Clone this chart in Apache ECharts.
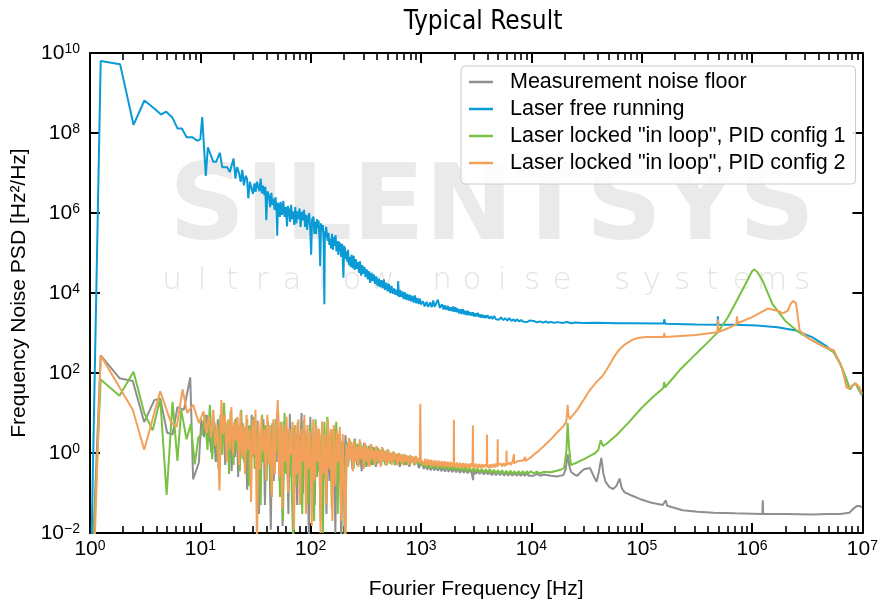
<!DOCTYPE html>
<html>
<head>
<meta charset="utf-8">
<title>Typical Result</title>
<script src="https://cdn.jsdelivr.net/npm/echarts@6/dist/echarts.min.js"></script>
<style>
html,body{margin:0;padding:0;background:#ffffff;}
#chart{width:881px;height:605px;}
</style>
</head>
<body>
<div id="chart"></div>
<script>
// ---------------- data ----------------
const seriesNames = [
  'Measurement noise floor',
  'Laser free running',
  'Laser locked "in loop", PID config 1',
  'Laser locked "in loop", PID config 2'
];
const xTickValues = [1, 10, 100, 1e3, 1e4, 1e5, 1e6, 1e7];
const yTickValues = [1e-2, 1, 1e2, 1e4, 1e6, 1e8, 1e10];
const minorMultipliers = [2, 3, 4, 5, 6, 7, 8, 9];

// [frequency Hz, PSD Hz^2/Hz]
const noiseFloor = [
[1.05,0.002],[1.25,275],[1.85,74],[2.44,63],[3.1,5.9],[3.83,21],[4.33,23],[5.0,3.2],[5.6,2.9],[6.2,14],[7.1,12],[8.1,78],[8.6,0.22],[9.7,0.58],
[10.2,6.8],[10.8,2.5],[11.4,9],[12,3.5],[12.6,1.0],[13.2,4.5],[13.8,0.6],[14.4,7],[15,0.9],[15.6,4],[16.2,8],[16.8,0.5],[17.4,3.8],[18,1.5],[18.6,6],[19.2,0.35],[19.9,4.2],[20.6,0.8],[21.3,7.5],[22,0.25],[22.7,3],[23.4,1.2],[24.2,5.5],[25,0.6],[25.8,2.2],[26.6,0.12],[27.4,4.8],[28.3,0.3],[29.2,9],[30.1,0.8],[31,3.5],[32,0.5],[33,6.5],[34,0.03],[35.1,2.8],[36.2,0.6],[37.3,7],[38.5,0.05],[39.7,4],[40.9,1.0],[42.2,1.6],[43.5,0.012],[44.9,5.5],[46.3,0.2],[47.7,2.5],[49.2,0.6],[50.7,11],[52.3,0.2],[53.9,3.8],[55.6,0.015],[57.3,6],[59.1,0.35],[60.9,2.1],[62.8,0.03],[64.7,9.5],[66.7,0.25],[68.8,4.2],[70.9,0.5],[73.1,3],[75.4,0.05],[77.7,2.8],[80.1,0.45],[82.6,10],[85.2,0.1],[87.8,4],[90.5,0.6],[93.3,2.3],[96.2,0.008],[99.2,8],[102.3,0.4],[105.5,3],[108.8,0.05],[112.2,4.5],[115.7,0.35],[119.3,2],[123,0.02],[126.8,6],[130.8,0.5],[134.9,2.5],[139.1,0.03],[143.4,5],[147.9,0.2],[152.5,3.5],[157.3,0.6],[162.2,2.5],[167.3,0.01],[172.5,3.5],[177.9,0.2],[183.5,2.4],[189.2,0.005],[195.1,1.8],[201.2,0.3],[206.5,2.8],
[216.7,0.45],[227.5,1.9],[238.8,0.4],[250.7,2.3],[263.2,0.5],[276.3,1.6],[290,0.35],[304.5,1.8],[320,0.45],[336,1.5],[353,0.5],[371,1.4],[390,0.45],[410,1.3],[431,0.55],[453,1.2],[476,0.5],[500,1.1],[526,0.55],[553,1.0],[581,0.5],[611,0.95],[642,0.45],[675,0.9],[710,0.5],[746,0.85],[784,0.45],[824,0.8],[866,0.5],[910,0.75],[956,0.42],[1005,0.6],
[1020,0.55],[1060,0.4],[1100,0.52],[1140,0.38],[1180,0.5],[1225,0.37],[1270,0.48],[1320,0.37],[1370,0.47],[1420,0.36],[1475,0.46],[1530,0.35],[1590,0.45],[1650,0.34],[1710,0.44],[1780,0.34],[1850,0.43],[1920,0.33],[2000,0.42],[2080,0.33],[2160,0.41],[2250,0.32],[2340,0.4],[2440,0.32],[2540,0.39],[2650,0.31],[2760,0.38],[2880,0.31],[2960,0.21],[3000,0.37],[3130,0.3],[3260,0.36],[3400,0.3],[3550,0.36],[3700,0.29],[3860,0.35],[4030,0.29],[4200,0.34],[4380,0.28],[4570,0.34],[4770,0.28],[4980,0.33],[5200,0.28],[5430,0.33],[5670,0.27],[5920,0.33],[6180,0.27],[6450,0.32],[6730,0.27],[7030,0.32],[7340,0.27],[7660,0.31],[8000,0.27],[8350,0.31],[8720,0.27],[9100,0.31],[9500,0.27],[9900,0.3],[10500,0.27],[11200,0.3],[12000,0.27],[13000,0.29],
[15000,0.27],[17000,0.26],[19500,0.28],[20500,0.4],[21300,0.93],[22000,0.5],[22800,0.34],[24500,0.29],[26000,0.27],[28500,0.35],[30500,0.4],[34000,0.42],[37000,0.25],[39000,0.19],[41000,0.35],[43000,0.75],[45000,0.3],[47000,0.19],[51000,0.14],[55000,0.126],[59000,0.15],[63000,0.23],[66000,0.13],[70000,0.104],[80000,0.088],[96000,0.071],[1.2e5,0.058],[1.55e5,0.05],[1.6e5,0.049],[1.65e5,0.066],[1.7e5,0.048],[2.35e5,0.037],[3.2e5,0.034],[4.5e5,0.032],[7e5,0.031],[1.24e6,0.03],[1.25e6,0.066],[1.26e6,0.03],[2e6,0.03],[3.5e6,0.029],[4.9e6,0.03],[6.3e6,0.03],[7.6e6,0.032],[8.4e6,0.042],[8.9e6,0.047],[9.5e6,0.047],[9.9e6,0.044]
];

const freeRunning = [
[1.02,0.001],[1.25,6.3e9],[1.875,5.2e9],[2.48,1.6e8],[3.11,6.5e8],[3.83,4.1e8],[4.4,2.9e8],[4.9,3.4e8],[5.6,2.4e8],[6.2,1.3e8],[6.8,1.3e8],[7.5,7.8e7],[8.5,7.8e7],[9.4,6.4e7],[10,7e7],[10.4,2.5e8],[11.2,8.4e6],[11.7,4.4e7],[13.1,1.9e7],[13.9,1.9e7],[15,3.2e7],[15.8,1.4e7],[17.5,1.4e7],[18.5,1.05e7],
[20,2.3e7],[20.8,7.2e6],[21.5,1.4e7],[22.3,1.05e7],[23.2,6e6],[24,1.2e7],[24.8,4.9e6],[25.7,8.5e6],[26.5,7.2e6],[27.2,2.3e6],[28.1,6e6],[29,5.9e6],[30,3e6],[30.9,5.5e6],[31.7,3.4e6],[32.6,6e6],[33.5,6.5e6],[34.3,3.5e6],[35.2,7.2e6],[36.1,3.1e6],[37,4.8e6],[38,2.8e6],[38.8,4.5e6],[39.6,6.6e5],[40.6,3.5e6],[41.9,2.7e6],[42.9,1.4e6],[44,3.2e6],[45,1.6e6],[46,2.3e6],[47,1.2e6],[48,2.5e6],[49,1.1e6],[49.7,2.7e5],[50.6,1.8e6],[51.5,1.5e6],[52.5,8e5],[53.4,1.9e6],[55,9e5],[56.5,2e6],[58,8e5],[59.5,1.4e6],[61,4.6e5],[62,1.5e6],[63.5,1.2e6],[65,6e5],[66.5,1.6e6],[68,7e5],[69.5,1.1e6],[71,5e5],[72.5,1.4e6],[74,5.5e5],[75.8,1.1e6],[77.5,7e5],[79.3,1.3e6],[81,4.5e5],[83,1.07e6],[85,6.5e5],[87,1.2e6],[89,4.5e5],[91,9e5],[92.7,3.8e5],[95,8e5],[97,1.0e6],[99,4e5],[101,9.1e4],[103,7e5],[106,8.1e5],[108,3e5],[110,6e5],[112,3e5],[114,7e5],[116,4.2e5],[118,6.5e5],[120,2.5e5],[122,4.7e4],[124,5.5e5],[127,3.5e5],[129,5e5],[131,1.8e5],[133,5.2e3],[134.5,3.5e5],[136,2.5e5],[138,4.5e5],[140,5e5],[142.5,2e5],[145,3.2e5],[147.5,1.6e5],[150,2.3e5],[153,1.3e5],[156,3e5],[159,1.2e5],[162,2.5e5],[165,1.5e5],[168,2.8e5],[171,1.1e5],[175,2e5],[178,9e4],[181,1.9e5],[185,1.6e5],[189,8e4],[193,1.7e5],[198,2.4e4],[201,1.5e5],[204,1.3e5],[208,7e4],[211,1.1e5],[215,6e4],[218,1.2e5],[222,5e4],[226,8e4],[230,4.5e4],[235,9e4],[240,4.2e4],[245,8.5e4],[250,3.8e4],[256,7e4],[262,4e4],[268,6e4],[274,3.2e4],[280,6.2e4],[286,2.7e4],[293,5e4],[300,3e4],[307,4.5e4],[314,2.5e4],[322,3.9e4],[330,2.2e4],[338,3.5e4],[346,1.8e4],[355,3.2e4],[364,2e4],[373,2.9e4],[383,1.7e4],[393,2.6e4],[403,1.5e4],[414,2.3e4],[425,1.4e4],[436,2.1e4],[448,1.3e4],[460,2.2e4],[472,1.2e4],[485,1.8e4],[498,1.1e4],[512,1.7e4],[526,1.0e4],[540,1.5e4],[555,9.5e3],[570,1.3e4],[585,9e3],[600,1.2e4],[615,8.5e3],[620,2e4],[630,8e3],[645,1.2e4],[660,8e3],[677,1.1e4],[695,7e3],[713,1.05e4],[732,6.8e3],[751,9.5e3],[771,6.5e3],[791,9e3],[812,6.2e3],[834,8.5e3],[856,5.8e3],[880,8.7e3],[903,5.5e3],[927,7.5e3],[952,5.3e3],[977,7.2e3],[1000,5.2e3],
[1040,6.2e3],[1080,4.6e3],[1120,6e3],[1160,4.5e3],[1210,5.8e3],[1250,4.4e3],[1290,6.5e3],[1330,4.5e3],[1375,5.6e3],[1420,6.8e3],[1480,4.2e3],[1550,5.2e3],[1600,3.9e3],[1640,4.9e3],[1700,3.8e3],[1750,4.8e3],[1800,3.6e3],[1850,4.4e3],[1900,3.5e3],[1950,4.6e3],[2000,3.4e3],[2050,4.4e3],[2100,3.3e3],[2150,4.1e3],[2220,3.1e3],[2280,3.9e3],[2340,3.0e3],[2400,3.9e3],[2470,2.9e3],[2530,3.6e3],[2600,2.8e3],[2660,3.6e3],[2730,2.8e3],[2800,3.3e3],[2870,2.7e3],[2950,3.3e3],[3020,2.6e3],[3100,3.1e3],[3180,2.6e3],[3270,3.2e3],[3360,2.5e3],[3450,2.9e3],[3520,2.4e3],[3600,2.9e3],[3700,2.4e3],[3800,2.75e3],[3900,2.35e3],[4000,2.8e3],[4150,2.3e3],[4300,2.6e3],[4450,2.25e3],[4600,2.65e3],[4780,2.2e3],[4950,2.45e3],[5100,2.15e3],[5300,2.45e3],[5550,2.1e3],[5800,2.35e3],[6050,2.05e3],[6300,2.35e3],[6600,2.0e3],[6900,2.2e3],[7150,1.95e3],[7400,2.2e3],[7750,1.95e3],[8100,2.1e3],[8450,1.9e3],[8800,2.1e3],[9200,1.88e3],[9600,2.05e3],[10000,1.85e3],[10500,2.0e3],[11200,1.85e3],[12000,1.95e3],[12800,1.82e3],[13500,1.95e3],[14200,1.8e3],[14900,1.9e3],[16000,1.8e3],[17500,1.87e3],[19000,1.78e3],[21000,1.88e3],[23000,1.76e3],[25000,1.82e3],[29500,1.78e3],[39000,1.8e3],[59000,1.75e3],[77000,1.75e3],[1.58e5,1.72e3],[1.6e5,2.2e3],[1.63e5,1.7e3],[3.1e5,1.62e3],[4.85e5,1.6e3],[4.9e5,2.6e3],[4.95e5,1.6e3],[7.0e5,1.6e3],[1.1e6,1.55e3],[1.7e6,1.4e3],[2.5e6,1.15e3],[3.5e6,790],[4.6e6,490],[5.5e6,330],[6.3e6,170],[7.0e6,81],[7.7e6,39],[8.2e6,50],[8.7e6,55],[9.3e6,38],[9.9e6,28]
];

const lockedPid1 = [
[1.05,0.001],[1.25,69],[1.85,27],[2.48,107],[3.1,10],[3.7,3.7],[4.33,23],[4.95,0.089],[5.6,19],[6.2,0.63],[6.7,12],[7.5,2.2],[8.2,5.3],[8.9,0.52],[9.6,2.5],
[10.4,3],[11,9],[11.6,1.2],[12.2,16],[12.8,0.7],[13.4,6],[14,2],[14.6,0.4],[15.2,9],[15.8,0.9],[16.4,18],[17,1.5],[17.6,6],[18.2,0.3],[18.8,11],[19.4,2],[20,0.5],[20.7,7],[21.4,1.2],[22.1,5],[22.8,0.35],[23.5,12],[24.2,0.7],[25,4.5],[25.8,0.9],[26.6,7],[27.5,0.15],[28.4,5],[29.3,1.5],[30.2,8],[31.1,0.4],[32.1,4],[33.1,0.9],[34.1,3],[35.2,0.05],[36.3,9],[37.5,0.6],[38.7,5],[39.9,0.2],[41.1,6],[42.4,1.2],[43.8,0.1],[45.2,5],[46.6,0.5],[48.1,7],[49.6,1],[51.1,3],[52.7,0.08],[54.4,6],[56.1,0.02],[57.9,10],[59.7,0.3],[61.6,4],[63.5,0.9],[65.5,2.8],[67.5,0.1],[69.6,0.004],[71.8,5],[74,0.15],[76.3,6],[78.7,0.8],[81.2,2],[83.8,0.03],[86.4,6.5],[89.1,0.4],[91.9,3],[94.8,0.05],[97.8,5],[100.9,0.6],[104.1,2.5],[107.3,0.02],[110.6,7],[114.1,0.25],[117.7,4],[121.4,0.6],[125.2,3],[129.1,0.01],[133.2,6],[137.4,0.2],[141.7,8],[146.1,0.5],[150.7,3],[155.4,0.04],[160.3,4],[165.3,0.3],[170.5,6],[175.8,0.03],[181.3,3],[187,0.25],[192.9,2],[198.9,0.5],[203.5,0.003],
[213,1.8],[219,0.5],[225,2.2],[231,0.8],[238,1.5],[245,0.4],[252,2.1],[259,0.6],[266,1.7],[274,0.5],[282,1.9],[290,0.7],[298,1.5],[307,0.45],[316,1.6],[325,0.5],[335,1.4],[345,0.6],[355,1.6],[366,0.5],[377,1.3],[388,0.6],[399,1.4],[411,0.55],[423,1.2],[436,0.5],[449,1.3],[463,0.6],[477,1.15],[491,0.5],[506,1.2],[521,0.55],[536,1.0],[552,0.6],[569,1.05],[586,0.5],[603,0.95],[621,0.6],[640,0.95],[659,0.55],[678,0.9],[698,0.6],[719,0.85],[741,0.5],[763,0.85],[786,0.55],[809,0.8],[833,0.6],[858,0.8],[884,0.5],[910,0.75],[938,0.55],[966,0.7],[995,0.5],
[1020,0.6],[1060,0.45],[1100,0.58],[1140,0.43],[1180,0.56],[1225,0.42],[1270,0.55],[1320,0.42],[1370,0.53],[1420,0.41],[1475,0.52],[1530,0.4],[1590,0.5],[1650,0.39],[1710,0.5],[1780,0.39],[1850,0.48],[1920,0.38],[2000,0.47],[2080,0.37],[2160,0.46],[2250,0.37],[2340,0.45],[2440,0.36],[2540,0.44],[2650,0.35],[2760,0.43],[2880,0.34],[3000,0.42],[3130,0.34],[3260,0.41],[3400,0.33],[3550,0.4],[3700,0.33],[3860,0.39],[4030,0.32],[4200,0.39],[4380,0.32],[4570,0.38],[4770,0.31],[4980,0.37],[5200,0.31],[5430,0.37],[5670,0.3],[5920,0.36],[6180,0.3],[6450,0.36],[6730,0.3],[7030,0.35],[7340,0.3],[7660,0.35],[8000,0.3],[8350,0.35],[8720,0.3],[9100,0.35],[9500,0.31],[9900,0.35],[10500,0.31],[11200,0.34],[12000,0.31],[13000,0.34],
[15000,0.33],[17000,0.36],[18300,0.38],[19800,0.42],[20800,1.2],[21300,5.6],[21900,1.5],[22800,0.5],[26000,0.58],[30000,0.7],[34000,0.85],[38000,1.0],[40500,1.2],[42500,2.1],[44500,1.5],[48000,1.7],[60000,2.9],[77000,6],[1.0e5,13.5],[1.3e5,27],[1.57e5,42],[1.6e5,60],[1.63e5,44],[2.2e5,117],[3.1e5,300],[4.0e5,600],[4.9e5,1050],[6.0e5,2400],[7.0e5,5300],[8.7e5,16500],[1.0e6,35000],[1.05e6,39000],[1.12e6,33000],[1.25e6,20000],[1.53e6,5300],[2.0e6,2000],[2.65e6,1050],[3.5e6,650],[4.9e6,400],[5.5e6,330],[6.3e6,170],[7.0e6,81],[7.7e6,39],[8.2e6,50],[8.7e6,55],[9.3e6,38],[9.9e6,28]
];

const lockedPid2 = [
[1.08,0.001],[1.25,275],[2.44,12],[3.1,1.2],[4.33,35],[5.4,5.9],[6.1,4.5],[6.9,39],[7.6,10],[8.6,16],[9.7,5.6],
[10.1,6],[10.7,11],[11.3,3.2],[11.9,8],[12.5,2.4],[13.1,12],[13.7,1.5],[14.3,5],[14.9,0.115],[15.5,21],[16.1,3],[16.7,9],[17.3,0.6],[17.9,7],[18.5,1.2],[19.1,14],[19.7,0.9],[20.3,6],[21,2],[21.7,8],[22.4,0.5],[23.1,11],[23.8,0.8],[24.6,5],[25.4,0.3],[26.2,9],[27,1.2],[27.9,4],[28.8,0.06],[29.7,7],[30.6,0.9],[31.6,12],[32.6,0.004],[33.6,6],[34.7,0.4],[35.8,8],[36.9,1.1],[38.1,4],[39.3,0.2],[40.5,9],[41.8,0.5],[43.1,5],[44.5,0.08],[45.9,7],[47.3,0.3],[48.8,4],[50.3,21],[51.9,0.25],[53.5,6],[55.2,0.04],[56.9,5],[58.7,0.6],[60.5,8],[62.4,0.1],[64.4,4],[66.4,0.9],[68.5,6],[70.6,0.012],[72.8,5],[75.1,0.3],[77.5,7],[79.9,0.05],[82.4,4],[85,0.6],[87.7,9],[90.4,0.03],[93.2,5],[96.1,0.4],[99.1,3.5],[102.2,0.015],[105.4,7],[108.7,0.2],[112.1,5],[115.6,0.6],[119.2,4],[122.9,0.01],[126.7,6],[130.7,0.3],[134.8,3],[139,0.05],[143.3,7],[147.8,0.4],[152.4,4],[157.2,0.02],[162.1,5],[167.2,0.15],[172.4,3.5],[177.8,0.6],[183.4,4.5],[189.1,0.02],[195,3],[201.1,0.1],[207.4,0.006],
[210,1.6],[216,0.45],[222,2.4],[228,0.7],[235,1.9],[241,0.35],[248,2.0],[255,0.6],[262,1.5],[270,0.45],[278,2.2],[286,0.7],[294,1.4],[302,0.4],[311,1.8],[320,0.6],[330,1.3],[340,0.45],[350,1.7],[360,0.7],[371,1.2],[382,0.5],[393,1.5],[405,0.6],[417,1.2],[430,0.45],[443,1.4],[456,0.65],[470,1.1],[484,0.5],[498,1.25],[513,0.6],[528,1.0],[544,0.5],[560,1.1],[577,0.65],[594,0.95],[612,0.5],[630,1.0],[649,0.6],[668,0.9],[688,0.5],[709,0.95],[730,0.6],[752,0.85],[774,0.5],[797,0.9],[821,0.6],[846,0.8],[871,0.5],[897,0.85],[924,0.6],[952,0.75],[975,0.55],[985,17],[995,0.7],
[1030,0.75],[1060,0.5],[1090,0.72],[1120,0.48],[1155,0.7],[1190,0.5],[1225,0.68],[1260,0.46],[1300,0.66],[1340,0.47],[1380,0.65],[1420,0.45],[1465,0.64],[1510,0.46],[1555,0.62],[1600,0.44],[1650,0.62],[1700,0.45],[1750,0.6],[1800,0.44],[1855,0.6],[1910,0.45],[1975,0.58],[1985,6.8],[1995,0.55],[2050,0.44],[2110,0.58],[2180,0.43],[2250,0.57],[2320,0.42],[2390,0.56],[2460,0.43],[2540,0.55],[2620,0.42],[2700,0.54],[2780,0.42],[2860,0.55],[2930,0.45],[2950,4.9],[2970,0.55],[3050,0.42],[3150,0.54],[3250,0.41],[3350,0.53],[3460,0.42],[3570,0.53],[3680,0.43],[3800,0.52],[3940,0.45],[3960,2.9],[3980,0.5],[4100,0.42],[4230,0.52],[4360,0.43],[4500,0.53],[4640,0.44],[4780,0.54],[4930,0.45],[4950,2.2],[4970,0.5],[5120,0.45],[5280,0.55],[5440,0.46],[5600,0.56],[5770,0.47],[5930,0.55],[5950,1.15],[5970,0.5],[6150,0.5],[6340,0.58],[6530,0.5],[6730,0.6],[6950,0.55],[6960,0.93],[6970,0.55],[7200,0.56],[7450,0.62],[7700,0.57],[7950,0.64],[8250,0.6],[8500,0.66],[8790,0.62],[8800,0.8],[8810,0.63],[9100,0.69],[9500,0.72],[10000,0.8],[10500,0.9],
[11500,1.1],[13000,1.5],[15000,2.2],[17000,3.2],[19500,4.7],[20700,6],[21100,10],[21300,16],[21600,9],[22300,7],[23500,8.5],[26000,12],[30000,22],[34000,38],[39000,60],[43000,78],[46000,100],[50000,145],[53000,190],[56000,250],[60000,330],[65000,430],[70000,510],[78000,620],[86000,710],[95000,760],[1.1e5,790],[1.58e5,790],[1.6e5,1000],[1.62e5,790],[3.1e5,890],[4.85e5,1050],[4.9e5,2200],[4.95e5,1060],[6e5,1300],[7.2e5,1650],[7.3e5,2600],[7.4e5,1750],[1.0e6,2500],[1.4e6,4100],[1.75e6,3500],[1.9e6,3100],[2.1e6,3600],[2.25e6,5500],[2.35e6,6300],[2.5e6,5700],[2.6e6,2500],[2.7e6,1150],[3.3e6,710],[4.6e6,440],[5.5e6,370],[6.5e6,140],[7.2e6,42],[7.8e6,44],[8.6e6,55],[9.3e6,46],[9.9e6,31]
];

// ---------------- styling ----------------
const FONT = '"Liberation Sans", Arial, Helvetica, sans-serif';
const COLORS = ['#8f8f8f', '#0a9ad5', '#79c142', '#f2a05a'];
const seriesData = [noiseFloor, freeRunning, lockedPid1, lockedPid2];

const xMinorTicks = [];
xTickValues.slice(0, -1).forEach(d => minorMultipliers.forEach(m => xMinorTicks.push(d * m)));

function powLabel(v) {
  const e = Math.round(Math.log10(v));
  const es = e < 0 ? '\u2212' + (-e) : String(e);
  return '{b|10}{s|' + es + '}';
}
const labelRich = {
  b: { fontSize: 21, fontFamily: FONT, color: '#000', lineHeight: 21, verticalAlign: 'bottom' },
  s: { fontSize: 14, fontFamily: FONT, color: '#000', lineHeight: 14, verticalAlign: 'top' }
};
const axisLineStyle = { color: '#000', width: 2 };

function xAxisCfg(pos, major, withLabels) {
  return {
    type: 'log', logBase: 10, min: 1, max: 1e7, position: pos,
    axisLine: { show: major, onZero: false, lineStyle: axisLineStyle },
    axisTick: { show: true, inside: true, length: major ? 10 : 7,
      lineStyle: { color: '#000', width: major ? 2 : 1.6 },
      customValues: major ? xTickValues : xMinorTicks },
    axisLabel: withLabels ? { show: true, customValues: xTickValues, formatter: powLabel, rich: labelRich, margin: 6 } : { show: false },
    splitLine: { show: false }, minorTick: { show: false }
  };
}

const chart = echarts.init(document.getElementById('chart'), null, { renderer: 'canvas' });

const wmLetters = 'ultralow noise systems'.split('');

const option = {
  animation: false,
  color: COLORS,
  backgroundColor: '#ffffff',
  title: {
    text: 'Typical Result', left: 478, top: 4, textAlign: 'center',
    textStyle: { fontFamily: '"DejaVu Sans Condensed", "DejaVu Sans", sans-serif', fontSize: 26, fontWeight: 'normal', color: '#000' }
  },
  grid: { left: 90, right: 15, top: 53, bottom: 67, containLabel: false },
  legend: {
    data: seriesNames, orient: 'vertical', left: 461, top: 66,
    icon: 'rect', itemWidth: 24, itemHeight: 2.5, itemGap: 5,
    padding: [5, 10, 10, 8], selectedMode: false,
    backgroundColor: 'rgba(255,255,255,0.85)', borderColor: '#cccccc', borderWidth: 1, borderRadius: 4,
    textStyle: { fontSize: 21.5, fontFamily: FONT, color: '#000', lineHeight: 21, padding: [0, 0, 0, 12] }
  },
  graphic: [
    { type: 'text', x: 492, y: 211, z: 0, silent: true,
      style: { text: 'SILENTSYS', font: 'bold 106px "DejaVu Sans"', fill: '#eaeaea', align: 'center', verticalAlign: 'middle' } }
  ].concat(wmLetters.map((ch, i) => ({
    type: 'text', x: 172 + i * 30, y: 281, z: 0, silent: true,
    style: { text: ch, font: '200 31px "DejaVu Sans"', fill: '#e4e4e4', align: 'center', verticalAlign: 'middle' }
  }))),
  xAxis: [
    Object.assign(xAxisCfg('bottom', true, true), {
      name: 'Fourier Frequency [Hz]', nameLocation: 'middle', nameGap: 46,
      nameTextStyle: { fontSize: 21, fontFamily: FONT, color: '#000' }
    }),
    xAxisCfg('bottom', false, false),
    xAxisCfg('top', true, false),
    xAxisCfg('top', false, false)
  ],
  yAxis: [
    {
      type: 'log', logBase: 10, min: 1e-2, max: 1e10, position: 'left',
      axisLine: { show: true, onZero: false, lineStyle: axisLineStyle },
      axisTick: { show: true, inside: true, length: 10, lineStyle: { color: '#000', width: 2 }, customValues: yTickValues },
      axisLabel: { show: true, customValues: yTickValues, formatter: powLabel, rich: labelRich, margin: 10 },
      splitLine: { show: false }, minorTick: { show: false },
      name: 'Frequency Noise PSD [Hz\u00b2/Hz]', nameLocation: 'middle', nameGap: 59,
      nameTextStyle: { fontSize: 21, fontFamily: FONT, color: '#000' }
    },
    {
      type: 'log', logBase: 10, min: 1e-2, max: 1e10, position: 'right',
      axisLine: { show: true, onZero: false, lineStyle: axisLineStyle },
      axisTick: { show: true, inside: true, length: 10, lineStyle: { color: '#000', width: 2 }, customValues: yTickValues },
      axisLabel: { show: false }, splitLine: { show: false }, minorTick: { show: false }
    }
  ],
  series: seriesNames.map((name, i) => ({
    name: name, type: 'line', xAxisIndex: 0, yAxisIndex: 0,
    data: seriesData[i], showSymbol: false, symbol: 'none', clip: true, silent: true,
    lineStyle: { color: COLORS[i], width: 2 }, itemStyle: { color: COLORS[i] },
    emphasis: { disabled: true }, z: 2 + i
  }))
};
chart.setOption(option);
</script>
</body>
</html>
